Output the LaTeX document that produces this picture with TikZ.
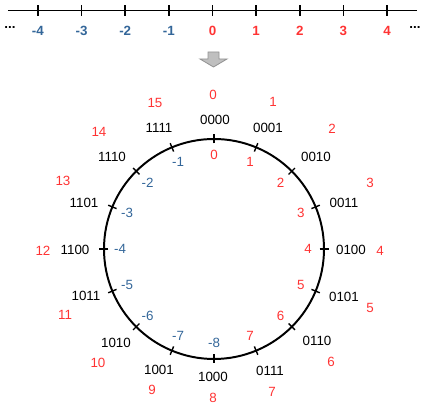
\documentclass[tikz,border=0pt]{standalone}
\usepackage{fontspec}
\setmainfont{Liberation Sans}
\usetikzlibrary{calc}
\definecolor{numred}{RGB}{255,51,51}
\definecolor{numblue}{RGB}{51,102,153}

\begin{document}
\begin{tikzpicture}[x=0.025cm, y=0.025cm, font=\fontsize{9.5}{11}\selectfont]
  \useasboundingbox (-214,-156) rectangle (213,249);

  % the number line
  \coordinate (L) at (-206,238.5);
  \coordinate (R) at (203,238.5);
  \draw [line width=1.4pt] (L) -- (R);
  \node [inner sep=0, font=\fontsize{9.5}{11}\selectfont\bfseries] (dotsL) at (-204,221) {...};
  \node [inner sep=0, font=\fontsize{9.5}{11}\selectfont\bfseries] (dotsR) at (201,221) {...};
  \foreach \n in {-4,...,4} {
    \pgfmathsetmacro{\xx}{43.65*\n-1.5}
    \ifnum\n<0 \def\col{numblue}\else\def\col{numred}\fi
    \draw [line width=1pt] (\xx,233) -- (\xx,244);
    \node [text=\col, font=\fontsize{9.5}{11}\selectfont\bfseries] (n\n) at (\xx,218) {\n};
  }

  % arrow down
  \draw [fill=gray!50, draw=gray!85, line width=0.6pt]
    (-6,197) -- (5,197) -- (5,190) -- (13,190) -- (-0.5,182) -- (-14,190) -- (-6,190) -- cycle;

  % the circle
  \node [inner sep=0, outer sep=0] (O) at (0,0) {};
  \draw [line width=1.4pt] (O) circle (110);
  \foreach \k/\bin/\bx/\by/\ox/\oy in {
      0/0000/1/129/-1/154, 1/0001/54/121/59/147, 2/0010/102/92/118/120,
      3/0011/130/46/156/66, 4/0100/137/-1/166/-2, 5/0101/130/-48/156/-59,
      6/0110/103/-92/117/-113, 7/0111/56/-122/58/-143, 8/1000/-1/-128/-1/-149,
      9/1001/-55/-121/-62/-141, 10/1010/-98/-94/-116/-114, 11/1011/-128/-47/-149/-66,
      12/1100/-139/-1/-171/-2, 13/1101/-130/46/-151/68, 14/1110/-102/92/-115/117,
      15/1111/-55/121/-59/146} {
    \pgfmathsetmacro{\a}{90-22.5*\k}
    \ifnum\k<8 \def\col{numred}\def\val{\k}\else\def\col{numblue}\pgfmathtruncatemacro{\val}{\k-16}\fi
    \draw [line width=1pt] ($(O)+(\a:105.5)$) -- ($(O)+(\a:114.5)$);
    \node [text=\col] (i\k) at (\a:94) {\val};
    \node (b\k) at (\bx,\by) {\bin};
    \node [text=numred] (o\k) at (\ox,\oy) {\k};
  }
\end{tikzpicture}
\end{document}
